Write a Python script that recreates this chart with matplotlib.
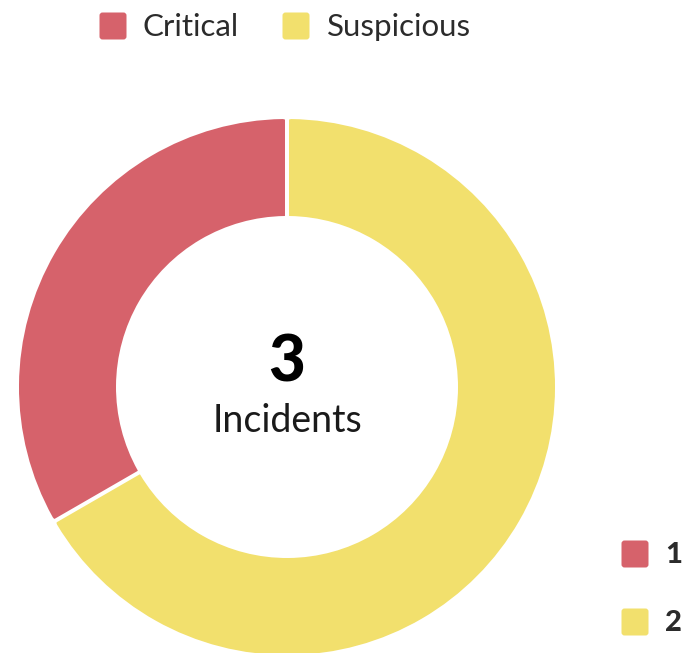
import matplotlib
matplotlib.use("Agg")
import matplotlib.pyplot as plt
import numpy as np
from matplotlib.patches import FancyBboxPatch

# data
categories = ["Critical", "Suspicious"]
counts = [1, 2]
colors = ["#d6626b", "#f2e06d"]
center_label = "Incidents"

W, H = 688, 653
plt.rcParams['font.family'] = ['Lato', 'DejaVu Sans']

fig = plt.figure(figsize=(W / 100, H / 100), dpi=100)
ax = fig.add_axes([0, 0, 1, 1])
ax.set_xlim(0, W)
ax.set_ylim(0, H)
ax.set_aspect("equal")
ax.axis("off")

cx, cy = 287, H - 387
r_out, r_in = 268, 171
d = 4  # rounding of the slice corners (px)

wedges, _ = ax.pie(counts, colors=colors, startangle=90, counterclock=True,
                   radius=r_out - d, center=(cx, cy),
                   wedgeprops=dict(width=(r_out - r_in) - 2 * d))
ax.set_xlim(0, W)
ax.set_ylim(0, H)
lw_pt = 2 * d * 72 / 100
for w in wedges:
    w.set_edgecolor(w.get_facecolor())
    w.set_linewidth(lw_pt)
    w.set_joinstyle("round")
    w.set_theta1(w.theta1 + 0.9)
    w.set_theta2(w.theta2 - 0.9)

# constant-width white gaps between slices
bounds = 90 + 360 * np.cumsum(counts) / np.sum(counts)
for a in bounds:
    t = np.deg2rad(a)
    rr = np.array([r_in - 3, r_out + 3])
    ax.plot(cx + rr * np.cos(t), cy + rr * np.sin(t), color="white",
            lw=4 * 72 / 100, solid_capstyle="butt")

# centre text
ax.text(cx, H - 363, str(sum(counts)), ha="center", va="center",
        fontsize=46, fontweight="black", color="black")
ax.text(cx, H - 421, center_label, ha="center", va="center",
        fontsize=27, color="#1a1a1a")

def square(x, y, c):
    s = 27
    p = FancyBboxPatch((x - s / 2 + 3, y - s / 2 + 3), s - 6, s - 6,
                       boxstyle="round,pad=3", fc=c, ec="none")
    ax.add_patch(p)

# top legend
for (sx, tx), name, c in zip([(113, 143), (296, 327)], categories, colors):
    square(sx, H - 26, c)
    ax.text(tx, H - 27, name, ha="left", va="center", fontsize=22.5,
            color="#2b2b2b")

# bottom-right legend with counts
for sy, n, c in zip([554, 622], counts, colors):
    square(635, H - sy, c)
    ax.text(665, H - sy - 1, str(n), ha="left", va="center", fontsize=21,
            fontweight="black", color="#2b2b2b")

fig.savefig("out.png", dpi=100)
